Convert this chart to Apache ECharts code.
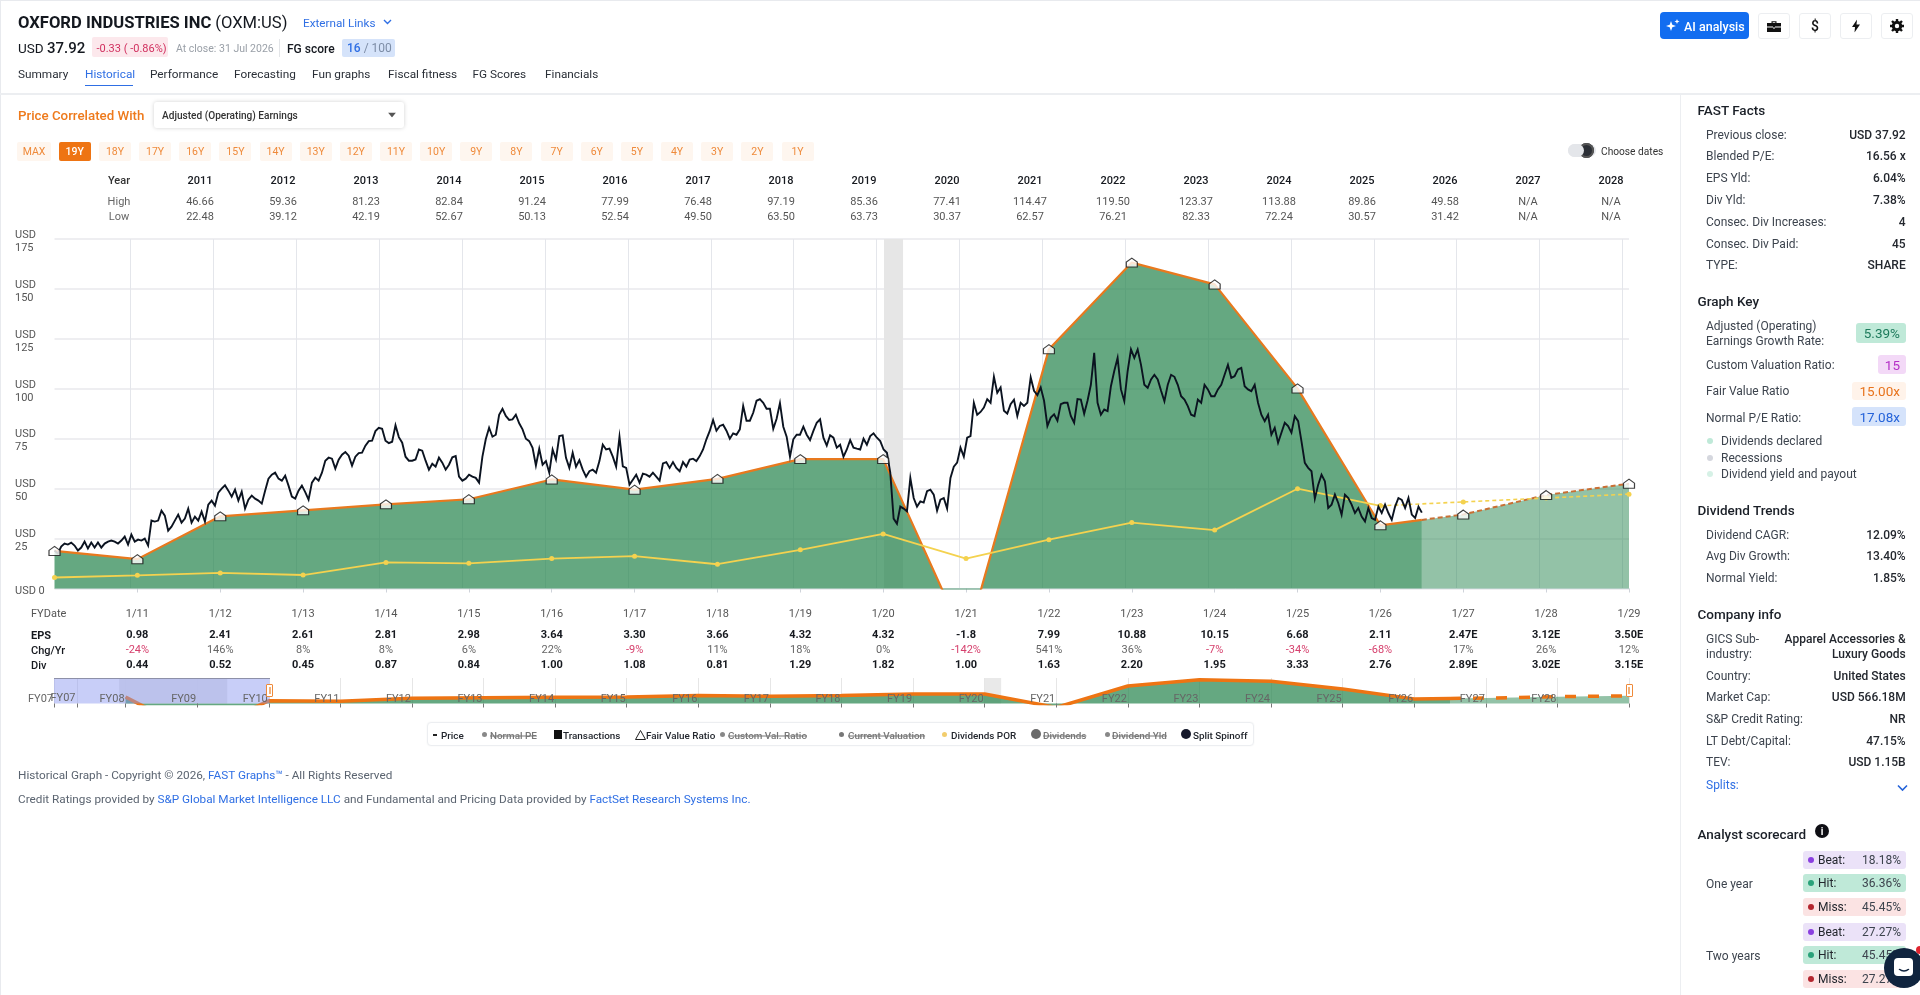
<!DOCTYPE html>
<html><head><meta charset="utf-8">
<script src="https://cdn.jsdelivr.net/npm/echarts@6/dist/echarts.min.js"></script>
<style>
html,body{margin:0;padding:0;background:#fff;width:1920px;height:995px;overflow:hidden;font-family:Roboto,sans-serif;color:#1f2630}
#chart{position:absolute;left:0;top:0;width:1920px;height:995px}
#ui{position:absolute;left:0;top:0;width:1920px;height:995px;pointer-events:none}
#ui>*{position:absolute;white-space:nowrap}
.v{transform:translateY(-50%)}
.c{transform:translate(-50%,-50%)}
.r{transform:translate(-100%,-50%)}
</style></head><body>
<div id="chart"></div><div id="ui"></div>
<script>
// ---------- chart data ----------
const fyYears=[2010.08,2011.08,2012.08,2013.08,2014.08,2015.08,2016.08,2017.08,2018.08,2019.08,2020.08,2021.08,2022.08,2023.08,2024.08,2025.08,2026.08,2027.08,2028.08,2029.08];
const fyLabels=['1/10','1/11','1/12','1/13','1/14','1/15','1/16','1/17','1/18','1/19','1/20','1/21','1/22','1/23','1/24','1/25','1/26','1/27','1/28','1/29'];
const epsLabels=['','0.98','2.41','2.61','2.81','2.98','3.64','3.30','3.66','4.32','4.32','-1.8','7.99','10.88','10.15','6.68','2.11','2.47E','3.12E','3.50E'];
const chgLabels=['','-24%','146%','8%','8%','6%','22%','-9%','11%','18%','0%','-142%','541%','36%','-7%','-34%','-68%','17%','26%','12%'];
const divLabels=['','0.44','0.52','0.45','0.87','0.84','1.00','1.08','0.81','1.29','1.82','1.00','1.63','2.20','1.95','3.33','2.76','2.89E','3.02E','3.15E'];
const fairValue=[18.8,14.7,36.15,39.15,42.15,44.7,54.6,49.5,54.9,64.8,64.8,-27,119.85,163.2,152.25,100.2,31.65];
const fairYears=[2010.08,2011.08,2012.08,2013.08,2014.08,2015.08,2016.08,2017.08,2018.08,2019.08,2020.08,2021.08,2022.08,2023.08,2024.08,2025.08,2026.08];
const todayYear=2026.58, todayFair=34.35;
const fairForecast=[37.05,46.8,52.5];
const forecastYears=[2027.08,2028.08,2029.08];
const divPOR=[5.5,6.6,7.8,6.75,13.05,12.6,15,16.2,12.15,19.35,27.3,15,24.45,33,29.25,49.95,41.4];
const divPORForecast=[43.35,45.3,47.25];
const priceValues=[
19,17.5,21,22.5,22,23,21.5,19,20.5,23.5,20,23,20.5,23,20.5,22.5,23.5,24,23.5,22.5,24,26,22,27,23.5,24.5,24,25,21.5,34,
33.5,34,39,36.5,29,31,34,37,33,35,40,33,36,34,38.5,33.5,42,44,41.5,48,50,51.7,49,46,49.5,44,48.5,40,44.5,46.5,
45,44,42.5,49,55,57,58,55,54,56.5,51.5,46,45,49,51.5,48.3,44.5,53,55.5,54,58,64,65.5,65,60,64.5,67,68.3,66.5,61.5,
66,67.8,68,71.5,73.8,74,78.8,80.5,80,74,72.8,73.5,81.7,75.8,
73,66,64,64,64.6,69.6,69,64,59.5,62.5,61,65.5,63,59.5,62,65.7,66.3,56,54,55,57,56,55.4,53,66,74.7,80.5,76,77,87,
90,86.4,84.4,84.7,87,82.7,79.7,75,73.8,70.5,61.6,70,62,63.8,58,69.6,64.6,76.3,76.7,65.4,60.4,68,61,64.3,59.5,56,58.7,59.5,58,63.8,
72,69.6,70,66,61,76,61.2,60.4,52,54.5,57,53,57.5,57,56,58,56,54,62.6,63.3,60.4,63.3,60.4,58.7,63.3,61,64.6,65,63.8,66.3,
69.6,74.7,78.9,84.4,79,81.4,82,79,75,77.7,77,
79.7,91.4,84,84,88,94,94.8,93,90,90,80,85,92.8,81,76,66,74.7,77,77,81,77,74.3,78.9,83,84.7,75.5,71.6,76.7,75.5,70.5,
72,66,69.6,74.3,70.5,70,69.6,75,72,76.3,77.7,75.5,73.8,69.6,68,58,35,32.4,41,40,38.6,55.4,45.3,41,43.6,43,48.7,49.5,47,39,
44.5,45.3,40,55.4,61,63,70.5,66,75.5,76.3,93,87,88.4,90.6,94.8,93,106,98,100.7,89,87.6,92.3,94.5,86.4,93,91.4,93,105.7,99,96.8,
100.7,94,81.4,85.6,87.2,84,92.3,93,93,86.4,83,94.8,
94.6,87.5,94,102,118,93,87,89.6,88.8,101.3,108.9,115.5,99.7,93.8,108.9,119.7,115.5,119.7,112,102,100.5,104.7,107,104.7,99,93.8,102,107,106,102,
96.3,94.6,91.3,87,86.3,94.6,93,102,99.7,96.3,96.3,99.7,102,107,112,105.5,106.3,109.7,110.5,101.3,99.7,98.8,102,93,87,83.8,87,77,80.4,73,
78,83,81.3,78,86.3,83.8,73.7,62.9,60.4,58.7,45,52,57,53.7,40.3,42,47,42.8,37,47,45.3,42,37.8,40.3,36,33.6,40.3,35.3,34.4,41,
37.8,42,37.8,34.4,41,45.3,44.4,40.3,45.3,37,35.3,41,38];
const priceStart=2010.08, priceEnd=2026.58;
const calendarYears=[2011,2012,2013,2014,2015,2016,2017,2018,2019,2020,2021,2022,2023,2024,2025,2026,2027,2028,2029];
const recession=[2020.09,2020.32];
const yTicks=[0,25,50,75,100,125,150,175];
// navigator
const navYears=[2008.08,2009.08,2010.08];
const navValues=[45,-210,18.8];
const navTicks=[2007.08,2007.41,2008.08,2009.08,2010.08,2011.08,2012.08,2013.08,2014.08,2015.08,2016.08,2017.08,2018.08,2019.08,2020.08,2021.08,2022.08,2023.08,2024.08,2025.08,2026.08,2027.08,2028.08,2029.08];
const navNames=['FY07','FY07','FY08','FY09','FY10','FY11','FY12','FY13','FY14','FY15','FY16','FY17','FY18','FY19','FY20','FY21','FY22','FY23','FY24','FY25','FY26','FY27','FY28',''];
const navRecessions=[[2007.99,2009.5],[2020.07,2020.31]];
const navSelection=[2007.08,2010.09];
// header table
const tableYears=['2011','2012','2013','2014','2015','2016','2017','2018','2019','2020','2021','2022','2023','2024','2025','2026','2027','2028'];
const tableHigh=['46.66','59.36','81.23','82.84','91.24','77.99','76.48','97.19','85.36','77.41','114.47','119.50','123.37','113.88','89.86','49.58','N/A','N/A'];
const tableLow=['22.48','39.12','42.19','52.67','50.13','52.54','49.50','63.50','63.73','30.37','62.57','76.21','82.33','72.24','30.57','31.42','N/A','N/A'];
const rangeButtons=['MAX','19Y','18Y','17Y','16Y','15Y','14Y','13Y','12Y','11Y','10Y','9Y','8Y','7Y','6Y','5Y','4Y','3Y','2Y','1Y'];
const tabs=[['Summary',18],['Historical',85],['Performance',150],['Forecasting',234],['Fun graphs',312],['Fiscal fitness',388],['FG Scores',472.5],['Financials',545]];
const legendItems=[['Price',441,0],['Normal PE',490,1],['Transactions',563,0],['Fair Value Ratio',646,0],['Custom Val. Ratio',728,1],['Current Valuation',848,1],['Dividends POR',951,0],['Dividends',1043,1],['Dividend Yld',1112,1],['Split Spinoff',1193,0]];
const factsRows=[['Previous close:','USD 37.92',134.5],['Blended P/E:','16.56 x',156.3],['EPS Yld:','6.04%',178],['Div Yld:','7.38%',200],['Consec. Div Increases:','4',222],['Consec. Div Paid:','45',243.5],['TYPE:','SHARE',265.3]];
const trendRows=[['Dividend CAGR:','12.09%',534.5],['Avg Div Growth:','13.40%',556.3],['Normal Yield:','1.85%',578]];
const companyRows=[['Country:','United States',675.5],['Market Cap:','USD 566.18M',697.3],['S&P Credit Rating:','NR',719],['LT Debt/Capital:','47.15%',740.5],['TEV:','USD 1.15B',762.3]];
const scoreRows=[['Beat:','18.18%',859.5,'#ebe2f8','#8a3fe0'],['Hit:','36.36%',883,'#bfe9d8','#2aa27a'],['Miss:','45.45%',906.5,'#fbe3e3','#b3262e'],['Beat:','27.27%',932,'#ebe2f8','#8a3fe0'],['Hit:','45.45%',955,'#bfe9d8','#2aa27a'],['Miss:','27.27%',979,'#fbe3e3','#b3262e']];

// ---------- chart ----------
const n=priceValues.length;
const priceData=priceValues.map((v,i)=>[priceStart+i*(priceEnd-priceStart)/(n-1),v]);
const histData=fairYears.map((y,i)=>[y,fairValue[i]]).concat([[todayYear,todayFair]]);
const fcData=[[todayYear,todayFair]].concat(forecastYears.map((y,i)=>[y,fairForecast[i]]));
const markerData=fairYears.map((y,i)=>[y,fairValue[i]]).concat(forecastYears.map((y,i)=>[y,fairForecast[i]]));
const porHist=fairYears.map((y,i)=>[y,divPOR[i]]);
const porFc=[[fairYears[fairYears.length-1],divPOR[divPOR.length-1]]].concat(forecastYears.map((y,i)=>[y,divPORForecast[i]]));
const navHist=navYears.slice(0,2).map((y,i)=>[y,navValues[i]]).concat(histData);
const GREEN='#23834C',ORANGE='#e8791e',YEL='#f4d24f';
const house='path://M5 0 L10 4 L10 9 L0 9 L0 4 Z';
const fyIdx=v=>fyYears.findIndex(y=>Math.abs(y-v)<0.01);
const navIdx=v=>navTicks.findIndex(y=>Math.abs(y-v)<0.01);
const chart=echarts.init(document.getElementById('chart'),null,{renderer:'canvas'});
chart.setOption({
 animation:false,
 grid:[{left:54.5,top:239,width:1574.5,height:349.5},{left:54,top:678,width:1575,height:25.5}],
 xAxis:[
  {type:'value',gridIndex:0,min:2010.08,max:2029.08,splitLine:{show:false},
   axisLine:{show:true,lineStyle:{color:'#dfe5ea',width:1}},
   axisTick:{show:true,length:4,lineStyle:{color:'#cfd3da'},customValues:fyYears.slice(1)},
   axisLabel:{show:true,margin:12.4,customValues:fyYears.slice(1),verticalAlign:'top',
    formatter:v=>{const i=fyIdx(v);const c=chgLabels[i].startsWith('-')?'n':'c';
      return `{d|${fyLabels[i]}}\n{e|${epsLabels[i]}}\n{${c}|${chgLabels[i]}}\n{e|${divLabels[i]}}`;},
    rich:{d:{fontSize:11,color:'#555',lineHeight:27,fontFamily:'Roboto'},
      e:{fontSize:11,color:'#16191f',fontWeight:'bold',lineHeight:15,fontFamily:'Roboto'},
      c:{fontSize:11,color:'#666',lineHeight:15,fontFamily:'Roboto'},
      n:{fontSize:11,color:'#d6406d',lineHeight:15,fontFamily:'Roboto'}}}},
  {type:'value',gridIndex:1,min:2007.08,max:2029.08,z:12,splitLine:{show:false},
   axisLine:{show:false},
   axisTick:{show:true,length:4,lineStyle:{color:'#777'},customValues:navTicks},
   axisLabel:{show:true,inside:true,margin:-1,customValues:navTicks.filter((y,i)=>i!==1),align:'right',padding:[0,1,0,0],showMinLabel:true,showMaxLabel:true,hideOverlap:false,
     color:'#666',fontSize:11,fontFamily:'Roboto',formatter:v=>navNames[navIdx(v)]||''}}
 ],
 yAxis:[
  {type:'value',gridIndex:0,min:0,max:175,interval:25,
   axisLine:{show:false},axisTick:{show:false},
   splitLine:{show:true,lineStyle:{color:'#e9e9ec',width:1.5}},
   axisLabel:{align:'left',margin:39.5,
     rich:{s:{fontSize:1,lineHeight:5},a:{fontSize:11,lineHeight:13,color:'#555',fontFamily:'Roboto'}},
     formatter:v=>v===0?'{s| }\n{a|USD 0}':'{s| }\n{a|USD}\n{a|'+v+'}'}},
  {type:'value',gridIndex:1,min:0,max:175,show:false}
 ],
 series:[
  {type:'line',name:'grid',xAxisIndex:0,yAxisIndex:0,z:1,data:[[2010.08,0]],symbol:'none',silent:true,lineStyle:{opacity:0},
   markLine:{silent:true,z:1,symbol:'none',label:{show:false},lineStyle:{color:'#e4e6eb',width:1,type:'solid'},
     data:calendarYears.map(y=>({xAxis:y}))},
   markArea:{silent:true,z:1,itemStyle:{color:'#e6e6e6'},data:[[{xAxis:recession[0]},{xAxis:recession[1]}]]}},
  {type:'line',name:'Fair Value',xAxisIndex:0,yAxisIndex:0,z:3,data:histData,symbol:'none',
   lineStyle:{color:ORANGE,width:2.2},areaStyle:{color:GREEN,opacity:0.7}},
  {type:'line',name:'Fair Value forecast',xAxisIndex:0,yAxisIndex:0,z:3,data:fcData,symbol:'none',
   lineStyle:{color:'#c96f34',width:2,type:[5,3]},areaStyle:{color:GREEN,opacity:0.49}},
  {type:'line',name:'Dividends POR',xAxisIndex:0,yAxisIndex:0,z:4,data:porHist,symbol:'circle',symbolSize:5,
   itemStyle:{color:YEL},lineStyle:{color:YEL,width:1.8}},
  {type:'line',name:'Dividends POR forecast',xAxisIndex:0,yAxisIndex:0,z:4,data:porFc,symbol:'circle',symbolSize:5,
   itemStyle:{color:YEL},lineStyle:{color:YEL,width:1.6,type:[4,3]}},
  {type:'line',name:'Price',xAxisIndex:0,yAxisIndex:0,z:5,data:priceData,symbol:'none',
   lineStyle:{color:'#0b1320',width:1.9,join:'miter'}},
  {type:'scatter',name:'Fair Value Ratio',xAxisIndex:0,yAxisIndex:0,z:6,data:markerData,symbol:house,symbolSize:[11,9],
   itemStyle:{color:'#fff',borderColor:'#111',borderWidth:1.1}},
  // navigator
  {type:'line',name:'navbase',xAxisIndex:1,yAxisIndex:1,z:1,data:[[2007.08,0]],symbol:'none',silent:true,lineStyle:{opacity:0},
   markLine:{silent:true,z:1,symbol:'none',label:{show:false},lineStyle:{color:'#e6e6e6',width:1,type:'solid'},
     data:navTicks.map(y=>({xAxis:y}))},
   markArea:{silent:true,z:1,itemStyle:{color:'#e9e9e9'},data:navRecessions.map(r=>[{xAxis:r[0]},{xAxis:r[1]}])}},
  {type:'line',name:'nav fair',xAxisIndex:1,yAxisIndex:1,z:3,data:navHist,symbol:'none',
   lineStyle:{color:'#ee7413',width:3.5},areaStyle:{color:GREEN,opacity:0.7}},
  {type:'line',name:'nav forecast',xAxisIndex:1,yAxisIndex:1,z:3,data:fcData,symbol:'none',
   lineStyle:{color:'#ee7413',width:3.5,type:[11,12]},areaStyle:{color:GREEN,opacity:0.49}},
  {type:'line',name:'nav selection',xAxisIndex:1,yAxisIndex:1,z:10,data:[[navSelection[0],0]],symbol:'none',silent:true,lineStyle:{opacity:0},
   markArea:{silent:true,z:10,itemStyle:{color:'rgba(140,152,240,0.48)',borderWidth:0},data:[[{xAxis:navSelection[0]},{xAxis:navSelection[1]}]]}}
 ]
});

// ---------- page furniture ----------
const ui=document.getElementById('ui');
function T(x,y,txt,css,cls){const e=document.createElement('div');e.className=cls||'v';e.style.cssText=`left:${x}px;top:${y}px;${css||''}`;e.innerHTML=txt;ui.appendChild(e);return e;}
function B(x,y,w,h,css){const e=document.createElement('div');e.style.cssText=`left:${x}px;top:${y}px;width:${w}px;height:${h}px;${css||''}`;ui.appendChild(e);return e;}
const BLUE='#2f6fe4',GRAY='#5b6470',DARK='#1f2630';
B(0,0,1920,1,'background:#e8eaee');B(0,0,1,995,'background:#e8eaee');
B(0,93,1920,1.5,'background:#eceef1');B(1680,94,1,901,'background:#eceef1');
T(18,22,'<b style="font-weight:700;font-size:16.6px">OXFORD INDUSTRIES INC</b> <span style="font-size:16.6px">(OXM:US)</span>','color:#14181f');
T(303,23,'External Links <svg width="9" height="6" style="margin-left:5px;vertical-align:2px"><path d="M1 1l3.5 3.5L8 1" fill="none" stroke="#2f6fe4" stroke-width="1.4"/></svg>',`font-size:11.7px;color:${BLUE}`);
T(18,48,'USD <span style="font-size:15px;font-weight:500">37.92</span>','font-size:13.5px;color:#14181f');
B(92,37,76,20,'background:#fce8ec;border-radius:2px');
T(96.5,47.5,'-0.33 ( -0.86%)','font-size:11px;color:#d1305f');
T(176,48,'At close: 31 Jul 2026','font-size:10.5px;color:#9aa0a8');
B(279,39,1,18,'background:#e3e5e8');
T(287,48.5,'FG score','font-size:12px;font-weight:500;color:#14181f');
B(342,39,53,17.5,'background:#d5e3fa;border-radius:2px');
T(347,48,'<span style="color:#2f6fe4;font-weight:500">16</span> <span style="color:#7d8da6">/ 100</span>','font-size:12px');
tabs.forEach(t=>T(t[1],73.5,t[0],`font-size:11.8px;color:${t[0]=='Historical'?BLUE:'#2a2f37'}`));
B(85,84.5,47.5,1.5,`background:${BLUE}`);
T(18,115,'Price Correlated With','font-size:13.3px;font-weight:500;color:#ee7a1c');
B(154,102,250,26,'background:#fff;border-radius:3px;box-shadow:0 0 4px rgba(0,0,0,.18)');
T(162,115,'Adjusted (Operating) Earnings','font-size:10.1px;font-weight:500;color:#333');
T(388,115,'<svg width="8" height="5" style="display:block"><path d="M0 0h8L4 5z" fill="#555"/></svg>','line-height:0');
rangeButtons.forEach((b,i)=>{const cx=i==0?34:74.8+(i-1)*40.15,w=i==0?34:32,on=b=='19Y';
  B(cx-w/2,141.5,w,19,`border-radius:2px;background:${on?'#ee7413':'#fef6ef'}`);
  T(cx,151,b,`font-size:10.5px;color:${on?'#fff':'#ef8a3a'};font-weight:${on?500:400}`,'c');});
B(1568,144,28,13,'background:#e4e6ea;border-radius:7px');B(1579,143,15,15,'background:#2b2f36;border-radius:50%;box-shadow:inset 0 0 0 2px #555');B(1568,144,16,13,'background:#e4e6ea;border-radius:7px');
T(1601,150.5,'Choose dates','font-size:10.2px;color:#333');
T(119,179.5,'Year','font-size:11px;font-weight:500;color:#333','c');
T(119,201,'High','font-size:11px;color:#666','c');T(119,216,'Low','font-size:11px;color:#666','c');
tableYears.forEach((y,i)=>{const x=200+i*83;
  T(x,179.5,y,'font-size:11px;font-weight:500;color:#16191f','c');
  T(x,201,tableHigh[i],'font-size:11px;color:#555','c');
  T(x,216,tableLow[i],'font-size:11px;color:#555','c');});
[['FYDate',613,400,'#555'],['EPS',634.5,700,'#16191f'],['Chg/Yr',649.5,500,'#16191f'],['Div',664.5,500,'#16191f']].forEach(r=>T(31,r[1],r[0],`font-size:11px;font-weight:${r[2]};color:${r[3]}`));
// navigator second FY07 tag and handles
T(63,697,navNames[1],'font-size:11px;color:#666','c');
[269.5,1629].forEach(x=>{B(x-3.5,684,7,13,'background:#fff;border:1px solid #ef8a3a;box-sizing:border-box;border-radius:1px');B(x-1,687,2,7,'background:#f3b27a');});
B(54,678,215.5,1,'background:#8d90a8');
// legend
B(426.5,721.5,827.5,24,'background:#fff;border:1px solid #eceef1;border-radius:4px;box-sizing:border-box;box-shadow:0 0 2px rgba(0,0,0,.05)');
legendItems.forEach(l=>T(l[1],734.5,l[0],`font-size:9.9px;font-weight:500;color:${l[2]?'#777':'#23272e'};${l[2]?'text-decoration:line-through':''}`));
B(433,734,4,2,'background:#222');
[[484,'#888'],[722.5,'#888'],[841.5,'#777'],[1107,'#888']].forEach(d=>B(d[0]-2.5,732,5,5,`background:${d[1]};border-radius:50%`));
B(941.5,732,5,5,'background:#f2cd6d;border-radius:50%');
B(554,729.5,7.5,9,'background:#111');
T(635,734.5,'<svg width="11" height="11"><path d="M5.5 1L10.5 10H.5z" fill="#fff" stroke="#222"/></svg>','line-height:0');
B(1031,729,10,10,'background:#6a6a6a;border-radius:50%');
B(1181,729,10,10,'background:#15192b;border-radius:50%');
// footer
T(18,775,'Historical Graph - Copyright © 2026, <span style="color:#2f6fe4">FAST Graphs™</span> - All Rights Reserved',`font-size:11.75px;color:${GRAY}`);
T(18,799,'Credit Ratings provided by <span style="color:#2f6fe4">S&amp;P Global Market Intelligence LLC</span> and Fundamental and Pricing Data provided by <span style="color:#2f6fe4">FactSet Research Systems Inc.</span>',`font-size:11.75px;color:${GRAY}`);
// top buttons
B(1660,12,89,27,'background:#126df0;border-radius:4px');
T(1666,25.5,'<svg width="14" height="14" viewBox="0 0 14 14"><path d="M5 2l1.3 3.7L10 7 6.3 8.3 5 12 3.7 8.3 0 7l3.7-1.3zM11 0l.7 1.8 1.8.7-1.8.7L11 5l-.7-1.8-1.8-.7 1.8-.7z" fill="#fff"/></svg>','line-height:0');
T(1684,26,'AI analysis','font-size:12.5px;font-weight:500;color:#fff');
const icons=['<svg width="14" height="12" viewBox="0 0 14 12"><path d="M4.5 3V1.2h5V3H14v3.5H8v1H6v-1H0V3zM5.7 3h2.6V2.2H5.7zM0 7.5h6v1h2v-1h6V12H0z" fill="#111"/></svg>','<span style="font-size:14px;font-weight:500;color:#111">$</span>','<svg width="8" height="13" viewBox="0 0 8 13"><path d="M5 0L0 7.5h3L2.5 13 8 5H4.5z" fill="#111"/></svg>','<svg width="14" height="14" viewBox="0 0 14 14"><circle cx="7" cy="7" r="3.7" fill="none" stroke="#111" stroke-width="3"/><path d="M7 0v3M7 11v3M0 7h3M11 7h3M2 2l2 2M10 10l2 2M12 2l-2 2M4 10l-2 2" stroke="#111" stroke-width="2.4"/></svg>'];
[1758,1799,1840,1881].forEach((x,i)=>{B(x,13,32,26,'background:#fff;border:1px solid #eceef1;border-radius:3px;box-sizing:border-box');T(x+16,26,icons[i],'line-height:0;display:block','c');});
// right panel
const H=(y,t)=>T(1697.5,y,t,'font-size:13.5px;font-weight:500;color:#1a1f27');
const L=(y,t,c)=>T(1706,y,t,`font-size:12px;color:${c||'#3d444e'}`);
const R=(y,t)=>T(1905.7,y,t,'font-size:12px;font-weight:500;color:#23272e','r');
H(110,'FAST Facts');factsRows.forEach(r=>{L(r[2],r[0]);R(r[2],r[1]);});
H(300.5,'Graph Key');L(325.5,'Adjusted (Operating)');L(340.5,'Earnings Growth Rate:');L(364.5,'Custom Valuation Ratio:');L(391,'Fair Value Ratio');L(417.5,'Normal P/E Ratio:');
[[1856,323,50,20,'#bfe9d8','#1d7a5b','5.39%'],[1878,355,28,19,'#f3d9f7','#b52fc7','15'],[1852,382,54,18,'#fff3ea','#e8731c','15.00x'],[1852,407,54,19,'#d5e3fb','#2563d9','17.08x']].forEach(b=>{
  B(b[0],b[1],b[2],b[3],`background:${b[4]};border-radius:3px`);T(b[0]+b[2]-6,b[1]+b[3]/2,b[6],`font-size:13.5px;color:${b[5]}`,'r');});
[[441,'#bfe9d8','Dividends declared'],[457.5,'#d5d7de','Recessions'],[474,'#d6f1e6','Dividend yield and payout']].forEach(r=>{B(1706.5,r[0]-3,6,6,`background:${r[1]};border-radius:50%`);T(1721,r[0],r[2],'font-size:12px;color:#3d444e');});
H(510,'Dividend Trends');trendRows.forEach(r=>{L(r[2],r[0]);R(r[2],r[1]);});
H(614,'Company info');L(638.5,'GICS Sub-');L(653.5,'industry:');R(638.5,'Apparel Accessories &amp;');R(653.5,'Luxury Goods');
companyRows.forEach(r=>{L(r[2],r[0]);R(r[2],r[1]);});
L(785,'Splits:',BLUE);T(1897,788,'<svg width="11" height="7"><path d="M1 1l4.5 4.5L10 1" fill="none" stroke="#2563d9" stroke-width="1.6"/></svg>','line-height:0');
H(833.5,'Analyst scorecard');
B(1815,824,14,14,'background:#0e0e14;border-radius:50%');T(1822,831,'i','font-size:10px;font-weight:700;color:#fff','c');
L(883.5,'One year');L(955.5,'Two years');
scoreRows.forEach(r=>{B(1803,r[2]-9,103,18,`background:${r[3]};border-radius:3px`);B(1808,r[2]-3,6,6,`background:${r[4]};border-radius:50%`);
  T(1818,r[2],r[0],'font-size:12px;color:#23272e');T(1901,r[2],r[1],'font-size:12px;color:#3d444e','r');});
// chat bubble
B(1884,948,40,40,'background:#10243e;border-radius:50%');
B(1894,958,19,18,'background:#fff;border-radius:4px');
T(1903.5,970,'<svg width="12" height="4"><path d="M1 .5q5 4 10 0" stroke="#10243e" fill="none" stroke-width="1.4"/></svg>','line-height:0','c');
B(1916,946,8,8,'background:#e0242f;border-radius:50%');
</script>
</body></html>
